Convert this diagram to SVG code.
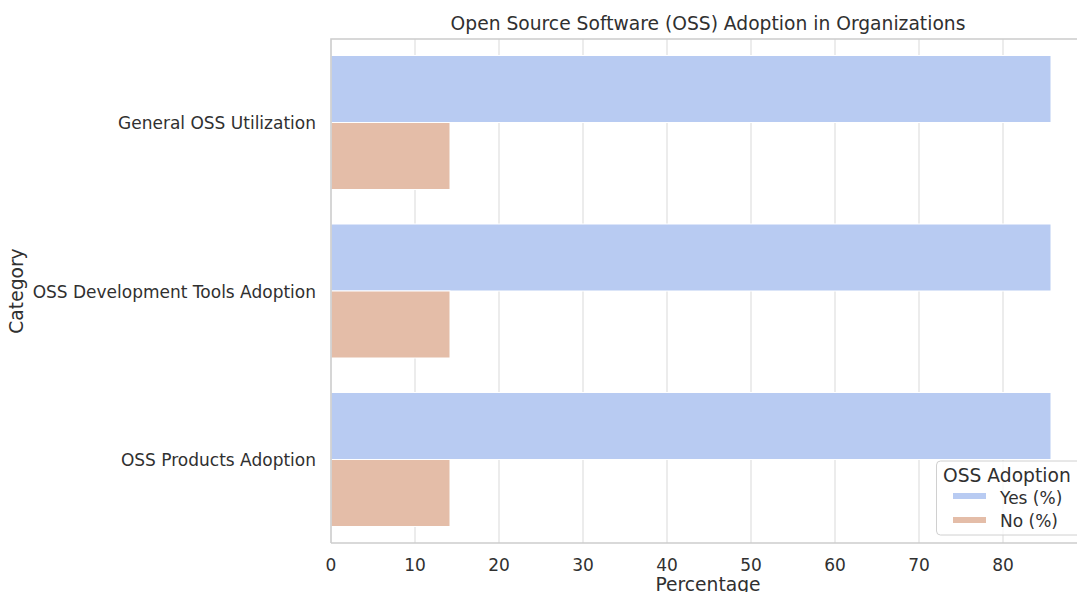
<svg xmlns="http://www.w3.org/2000/svg" width="1077" height="592" viewBox="0 0 1077 592">
<style>
text{font-family:"DejaVu Sans",sans-serif;fill:#303030}
.tick{font-size:17px}
.big{font-size:18.7px}
.grid{stroke:#e6e6e6;stroke-width:1.5}
.spine{stroke:#cccccc;stroke-width:1.6;fill:none}
.yes{fill:#b8cbf2;stroke:#ffffff;stroke-width:1}
.no{fill:#e4bda8;stroke:#ffffff;stroke-width:1}
</style>
<rect width="1077" height="592" fill="#ffffff"/>
<g id="grid">
<line class="grid" x1="415" y1="39" x2="415" y2="543"/>
<line class="grid" x1="499" y1="39" x2="499" y2="543"/>
<line class="grid" x1="583" y1="39" x2="583" y2="543"/>
<line class="grid" x1="667" y1="39" x2="667" y2="543"/>
<line class="grid" x1="751" y1="39" x2="751" y2="543"/>
<line class="grid" x1="835" y1="39" x2="835" y2="543"/>
<line class="grid" x1="919" y1="39" x2="919" y2="543"/>
<line class="grid" x1="1003" y1="39" x2="1003" y2="543"/>
</g>
<g id="bars">
<rect class="yes" x="331" y="55.5" width="720" height="67"/>
<rect class="no" x="331" y="122.5" width="119" height="67"/>
<rect class="yes" x="331" y="224" width="720" height="67"/>
<rect class="no" x="331" y="291" width="119" height="67"/>
<rect class="yes" x="331" y="392.5" width="720" height="67"/>
<rect class="no" x="331" y="459.5" width="119" height="67"/>
</g>
<g id="spines">
<path class="spine" d="M331 543 V39 H1090"/>
<line class="spine" x1="331" y1="543" x2="1090" y2="543"/>
</g>
<g id="xticks" class="tick" text-anchor="middle">
<text x="331" y="571">0</text>
<text x="415" y="571">10</text>
<text x="499" y="571">20</text>
<text x="583" y="571">30</text>
<text x="667" y="571">40</text>
<text x="751" y="571">50</text>
<text x="835" y="571">60</text>
<text x="919" y="571">70</text>
<text x="1003" y="571">80</text>
</g>
<g id="yticks" class="tick" text-anchor="end">
<text x="316" y="128.5">General OSS Utilization</text>
<text x="316" y="297.5">OSS Development Tools Adoption</text>
<text x="316" y="465.5">OSS Products Adoption</text>
</g>
<text class="big" x="708" y="591" text-anchor="middle">Percentage</text>
<text class="big" transform="translate(23 291) rotate(-90)" text-anchor="middle">Category</text>
<text class="big" x="708" y="30" text-anchor="middle">Open Source Software (OSS) Adoption in Organizations</text>
<g id="legend">
<rect x="936.5" y="461" width="150" height="74" rx="4" fill="#ffffff" fill-opacity="0.8" stroke="#d0d0d0" stroke-width="1"/>
<text class="big" x="943" y="482">OSS Adoption</text>
<rect x="953" y="493" width="33" height="6" fill="#b8cbf2"/>
<text class="tick" x="1000" y="504">Yes (%)</text>
<rect x="953" y="517" width="33" height="6" fill="#e4bda8"/>
<text class="tick" x="1000" y="527">No (%)</text>
</g>
</svg>
